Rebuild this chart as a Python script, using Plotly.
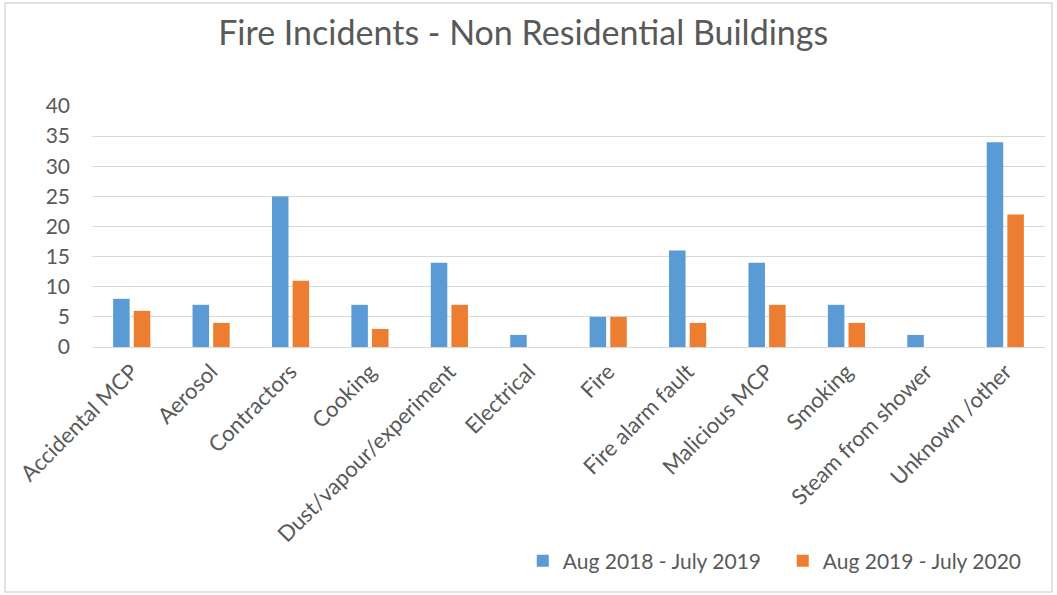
import plotly.graph_objects as go

categories = ["Accidental MCP", "Aerosol", "Contractors", "Cooking", "Dust/vapour/experiment",
              "Electrical", "Fire", "Fire alarm fault", "Malicious MCP", "Smoking",
              "Steam from shower", "Unknown /other"]
series_2018 = [8, 7, 25, 7, 14, 2, 5, 16, 14, 7, 2, 34]
series_2019 = [6, 4, 11, 3, 7, 0, 5, 4, 7, 4, 0, 22]
series_names = ["Aug 2018 - July 2019", "Aug 2019 - July 2020"]
y_ticks = [0, 5, 10, 15, 20, 25, 30, 35, 40]

FONT = "Lato, Carlito, 'Liberation Sans', sans-serif"
GREY = "#595959"

fig = go.Figure()
fig.add_trace(go.Bar(x=categories, y=series_2018, name=series_names[0],
                     marker=dict(color="#5B9BD5", line=dict(width=0))))
fig.add_trace(go.Bar(x=categories, y=series_2019, name=series_names[1],
                     marker=dict(color="#ED7D31", line=dict(width=0))))

fig.update_layout(
    width=1057, height=595,
    paper_bgcolor="white", plot_bgcolor="white",
    margin=dict(l=92, r=12, t=106, b=248, autoexpand=False),
    barmode="group", bargap=0.48, bargroupgap=0.2,
    font=dict(family=FONT, color=GREY),
    title=dict(text="Fire Incidents - Non Residential Buildings",
               x=0.495, xanchor="center", y=0.945, yanchor="middle",
               font=dict(size=34, color=GREY, family=FONT)),
    xaxis=dict(tickangle=-45, tickfont=dict(size=22, color=GREY), showgrid=False,
               showline=True, linecolor="#D9D9D9", linewidth=1.3, ticks="", automargin=False,
               ticklabelstandoff=2),
    yaxis=dict(range=[0, 40], tickvals=y_ticks, tickfont=dict(size=21, color=GREY),
               showgrid=True, gridcolor="#D9D9D9", gridwidth=1.3, zeroline=False,
               showline=False, ticks="", ticklabelstandoff=21, automargin=False),
    legend=dict(orientation="h", x=0.452, y=-0.888, xanchor="left", yanchor="middle",
                font=dict(size=21, color=GREY), entrywidth=215, traceorder="normal",
                itemwidth=30),
    showlegend=True,
    shapes=[dict(type="rect", xref="paper", yref="paper",
                 x0=-0.0913, x1=1.0073, y0=-1.0166, y1=1.427,
                 line=dict(color="#D9D9D9", width=1.5), fillcolor="rgba(0,0,0,0)", layer="below")],
)

fig.write_html("out.html", config={"displayModeBar": False},
               post_script="document.body.style.margin='0';")
